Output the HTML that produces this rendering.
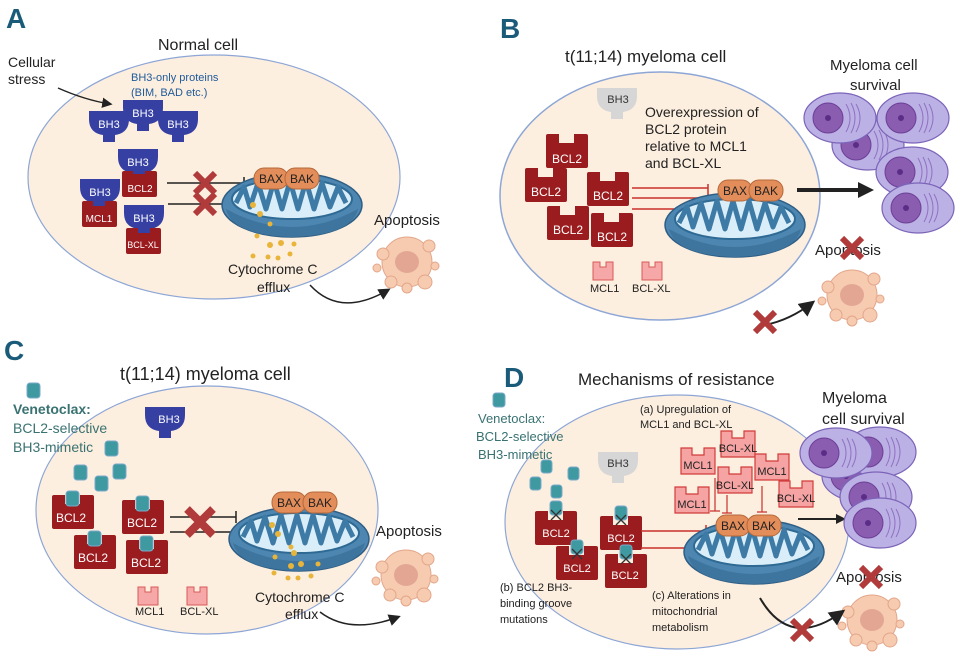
<!DOCTYPE html>
<html><head><meta charset="utf-8"><style>
html,body{margin:0;padding:0;background:#fff;}
svg{display:block;font-family:"Liberation Sans",sans-serif;}
</style></head><body>
<svg width="957" height="662" viewBox="0 0 957 662" xmlns="http://www.w3.org/2000/svg">
<defs>
 <g id="bh3"><path d="M0,0 H40 V8 Q40,22 26,24 V31 H14 V24 Q0,22 0,8 Z"/></g>
 <g id="blk"><path d="M0,2 Q0,0 2,0 H13 V9 H28 V0 H40 Q42,0 42,2 V32 Q42,34 40,34 H2 Q0,34 0,32 Z"/></g>
 <g id="pk"><path d="M0,0 H7 V5 H13 V0 H20 V18 H0 Z" fill="#f6a8a8" stroke="#d85a5a" stroke-width="1"/></g>
 <g id="pkb"><path d="M0,1 H11 V8 H23 V1 H34 V27 H0 Z" fill="#f5a3a3" stroke="#d23c3c" stroke-width="1.2"/></g>
 <g id="mito">
  <ellipse cx="0" cy="0" rx="70" ry="32" fill="#4d86b0" stroke="#2e5e85" stroke-width="1.5"/>
  <path d="M-66,4 Q0,40 66,4 Q60,30 0,32 Q-60,30 -66,4Z" fill="#3e759f"/>
  <ellipse cx="0" cy="-6" rx="60" ry="20" fill="#d9eef8" stroke="#2e6a94" stroke-width="2"/>
  <path d="M-56,-2 L-48,-18 L-42,2 L-34,-22 L-26,4 L-18,-24 L-10,4 L-2,-24 L6,4 L14,-24 L22,4 L30,-22 L38,2 L46,-18 L54,-2" fill="none" stroke="#3d7aa6" stroke-width="5" stroke-linejoin="round"/>
 </g>
 <g id="baxbak">
  <rect x="0" y="0" width="34" height="21" rx="10" fill="#e38d5a" stroke="#b5683a"/>
  <rect x="31" y="0" width="34" height="21" rx="10" fill="#e38d5a" stroke="#b5683a"/>
  <text x="17" y="15" font-size="12" text-anchor="middle" fill="#222">BAX</text>
  <text x="48" y="15" font-size="12" text-anchor="middle" fill="#222">BAK</text>
 </g>
 <g id="xmark"><path d="M-10,-10 L10,10 M10,-10 L-10,10" stroke="#b13a3a" stroke-width="6"/></g>
 <g id="apo">
  <circle cx="0" cy="0" r="25" fill="#f6cbb0" stroke="#e3a68a"/>
  <circle cx="-24" cy="-8" r="6" fill="#f6cbb0" stroke="#e3a68a"/>
  <circle cx="22" cy="-16" r="6" fill="#f6cbb0" stroke="#e3a68a"/>
  <circle cx="18" cy="20" r="7" fill="#f6cbb0" stroke="#e3a68a"/>
  <circle cx="-16" cy="20" r="6" fill="#f6cbb0" stroke="#e3a68a"/>
  <circle cx="28" cy="4" r="4" fill="#f6cbb0" stroke="#e3a68a"/>
  <circle cx="-30" cy="6" r="4" fill="#f6cbb0" stroke="#e3a68a"/>
  <circle cx="0" cy="26" r="5" fill="#f6cbb0" stroke="#e3a68a"/>
  <ellipse cx="0" cy="0" rx="12" ry="11" fill="#e3a693"/>
 </g>
 <g id="mye">
  <ellipse cx="0" cy="0" rx="36" ry="25" fill="#bcb1e4" stroke="#7b64b9" stroke-width="1.2"/>
  <circle cx="-12" cy="0" r="15" fill="#8a5db0" stroke="#6c3f98"/>
  <circle cx="-12" cy="0" r="3" fill="#5c2d86"/>
  <path d="M6,-14 Q14,0 6,14 M11,-15 Q19,0 11,15 M16,-14 Q24,0 16,14" stroke="#8e70c2" fill="none"/>
 </g>
 <marker id="ah" markerWidth="8" markerHeight="8" refX="6" refY="4" orient="auto"><path d="M0,0 L8,4 L0,8Z" fill="#222"/></marker>
</defs>

<!-- ===== A ===== -->
<text x="6" y="28" font-size="28" font-weight="bold" fill="#1b5b7a">A</text>
<text x="158" y="50" font-size="16" fill="#222">Normal cell</text>
<ellipse cx="214" cy="177" rx="186" ry="122" fill="#fdefdf" stroke="#8da6d6" stroke-width="1.2"/>
<text x="8" y="67" font-size="14" fill="#222">Cellular</text>
<text x="8" y="84" font-size="14" fill="#222">stress</text>
<path d="M58,88 Q85,100 110,104" fill="none" stroke="#222" stroke-width="1.3" marker-end="url(#ah)"/>
<text x="131" y="81" font-size="11" fill="#1f5a9a">BH3-only proteins</text>
<text x="131" y="96" font-size="11" fill="#1f5a9a">(BIM, BAD etc.)</text>
<g fill="#3640a3">
 <use href="#bh3" x="89" y="111"/><use href="#bh3" x="123" y="100"/><use href="#bh3" x="158" y="111"/>
 <use href="#bh3" x="118" y="149"/><use href="#bh3" x="80" y="179"/><use href="#bh3" x="124" y="205"/>
</g>
<g fill="#9b1c1f">
 <rect x="122" y="171" width="35" height="26" rx="2"/>
 <rect x="82" y="201" width="35" height="26" rx="2"/>
 <rect x="126" y="228" width="35" height="26" rx="2"/>
</g>
<g fill="#3640a3"><rect x="133" y="166" width="12" height="8"/><rect x="93" y="198" width="12" height="8"/><rect x="138" y="225" width="12" height="8"/></g>
<g fill="#fff" font-size="11" text-anchor="middle">
 <text x="109" y="128">BH3</text><text x="143" y="117">BH3</text><text x="178" y="128">BH3</text>
 <text x="138" y="166">BH3</text><text x="100" y="196">BH3</text><text x="144" y="222">BH3</text>
 <text x="140" y="192" font-size="10">BCL2</text><text x="99" y="222" font-size="10">MCL1</text><text x="143" y="248" font-size="9">BCL-XL</text>
</g>
<g stroke="#222" stroke-width="1.5"><path d="M167,183 H244 M244,177 V189 M168,204 H243 M243,198 V210"/></g>
<use href="#xmark" x="205" y="183"/><use href="#xmark" x="205" y="204"/>
<use href="#mito" x="292" y="205"/>
<use href="#baxbak" x="254" y="168"/>
<g fill="#e8b53a"><circle cx="253" cy="205" r="3"/><circle cx="260" cy="214" r="3"/><circle cx="270" cy="224" r="2.5"/><circle cx="257" cy="236" r="2.5"/><circle cx="270" cy="245" r="3"/><circle cx="281" cy="243" r="3"/><circle cx="294" cy="244" r="2.5"/><circle cx="253" cy="256" r="2.5"/><circle cx="268" cy="257" r="2.5"/><circle cx="278" cy="258" r="2.5"/><circle cx="290" cy="254" r="2.5"/></g>
<text x="228" y="274" font-size="14" fill="#222">Cytochrome C</text>
<text x="257" y="292" font-size="14" fill="#222">efflux</text>
<text x="374" y="225" font-size="15" fill="#222">Apoptosis</text>
<use href="#apo" x="407" y="262"/>
<path d="M310,285 Q340,318 388,290" fill="none" stroke="#222" stroke-width="1.5" marker-end="url(#ah)"/>

<!-- ===== B ===== -->
<text x="500" y="38" font-size="28" font-weight="bold" fill="#1b5b7a">B</text>
<text x="565" y="62" font-size="17" fill="#222">t(11;14) myeloma cell</text>
<ellipse cx="660" cy="196" rx="160" ry="124" fill="#fdefdf" stroke="#8da6d6" stroke-width="1.5"/>
<use href="#bh3" x="597" y="88" fill="#d6d6d6"/>
<text x="618" y="103" font-size="11" fill="#333" text-anchor="middle">BH3</text>
<g font-size="14" fill="#222"><text x="645" y="117">Overexpression of</text><text x="645" y="134">BCL2 protein</text><text x="645" y="151">relative to MCL1</text><text x="645" y="168">and BCL-XL</text></g>
<g fill="#9b1c1f"><use href="#blk" x="546" y="134"/><use href="#blk" x="525" y="168"/><use href="#blk" x="587" y="172"/><use href="#blk" x="547" y="206"/><use href="#blk" x="591" y="213"/></g>
<g fill="#fff" font-size="12" text-anchor="middle"><text x="567" y="163">BCL2</text><text x="546" y="196">BCL2</text><text x="608" y="200">BCL2</text><text x="568" y="234">BCL2</text><text x="612" y="241">BCL2</text></g>
<g stroke="#c9302c" stroke-width="1.5"><path d="M632,188 H708 M632,198 H708 M632,209 H708 M708,184 V214"/></g>
<use href="#mito" x="735" y="225"/>
<use href="#baxbak" x="718" y="180"/>
<use href="#pk" x="593" y="262"/><use href="#pk" x="642" y="262"/>
<text x="590" y="292" font-size="11" fill="#222">MCL1</text><text x="632" y="292" font-size="11" fill="#222">BCL-XL</text>
<path d="M797,190 H862" stroke="#222" stroke-width="4"/><path d="M858,182 L874,190 L858,198Z" fill="#222"/>
<text x="830" y="70" font-size="15" fill="#222">Myeloma cell</text>
<text x="850" y="90" font-size="15" fill="#222">survival</text>
<use href="#mye" x="868" y="145"/><use href="#mye" x="840" y="118"/><use href="#mye" x="913" y="118"/><use href="#mye" x="912" y="172"/><use href="#mye" x="918" y="208"/>
<text x="815" y="255" font-size="15" fill="#222">Apoptosis</text>
<use href="#xmark" x="852" y="248"/>
<use href="#apo" x="852" y="295"/>
<path d="M765,325 Q790,320 812,303" fill="none" stroke="#222" stroke-width="2" marker-end="url(#ah)"/>
<use href="#xmark" x="765" y="322"/>

<!-- ===== C ===== -->
<text x="4" y="360" font-size="28" font-weight="bold" fill="#1b5b7a">C</text>
<text x="120" y="380" font-size="18" fill="#222">t(11;14) myeloma cell</text>
<ellipse cx="207" cy="510" rx="171" ry="124" fill="#fdefdf" stroke="#8da6d6" stroke-width="1.2"/>
<g fill="#3e9aa0" stroke="#7aa9c9"><rect x="27" y="383" width="13" height="15" rx="3"/><rect x="105" y="441" width="13" height="15" rx="3"/><rect x="74" y="465" width="13" height="15" rx="3"/><rect x="113" y="464" width="13" height="15" rx="3"/><rect x="95" y="476" width="13" height="15" rx="3"/></g>
<text x="13" y="414" font-size="14" font-weight="bold" fill="#3a7272">Venetoclax:</text>
<text x="13" y="433" font-size="14" fill="#3a7272">BCL2-selective</text>
<text x="13" y="452" font-size="14" fill="#3a7272">BH3-mimetic</text>
<use href="#bh3" x="145" y="407" fill="#3640a3"/>
<text x="169" y="423" font-size="11" fill="#fff" text-anchor="middle">BH3</text>
<g fill="#9b1c1f"><use href="#blk" x="52" y="495"/><use href="#blk" x="74" y="535"/><use href="#blk" x="122" y="500"/><use href="#blk" x="126" y="540"/></g>
<g fill="#3e9aa0" stroke="#7aa9c9"><rect x="66" y="491" width="13" height="15" rx="3"/><rect x="88" y="531" width="13" height="15" rx="3"/><rect x="136" y="496" width="13" height="15" rx="3"/><rect x="140" y="536" width="13" height="15" rx="3"/></g>
<g fill="#fff" font-size="12" text-anchor="middle"><text x="71" y="522">BCL2</text><text x="93" y="562">BCL2</text><text x="142" y="527">BCL2</text><text x="146" y="567">BCL2</text></g>
<g stroke="#222" stroke-width="1.5"><path d="M170,517 H236 M170,532 H236 M236,511 V523 M236,526 V538"/></g>
<path d="M187,509 L213,535 M213,509 L187,535" stroke="#b13a3a" stroke-width="8"/>
<use href="#mito" x="299" y="539"/>
<use href="#baxbak" x="272" y="492"/>
<g fill="#e8b53a"><circle cx="272" cy="525" r="3"/><circle cx="278" cy="534" r="3"/><circle cx="291" cy="547" r="2.5"/><circle cx="275" cy="557" r="2.5"/><circle cx="294" cy="553" r="3"/><circle cx="291" cy="566" r="3"/><circle cx="301" cy="564" r="3"/><circle cx="318" cy="564" r="2.5"/><circle cx="274" cy="573" r="2.5"/><circle cx="288" cy="578" r="2.5"/><circle cx="298" cy="578" r="2.5"/><circle cx="311" cy="576" r="2.5"/></g>
<use href="#pk" x="138" y="587"/><use href="#pk" x="187" y="587"/>
<text x="135" y="615" font-size="11" fill="#222">MCL1</text><text x="180" y="615" font-size="11" fill="#222">BCL-XL</text>
<text x="255" y="602" font-size="14" fill="#222">Cytochrome C</text>
<text x="285" y="619" font-size="14" fill="#222">efflux</text>
<text x="376" y="536" font-size="15" fill="#222">Apoptosis</text>
<use href="#apo" x="406" y="575"/>
<path d="M320,612 Q350,635 398,617" fill="none" stroke="#222" stroke-width="1.5" marker-end="url(#ah)"/>

<!-- ===== D ===== -->
<text x="504" y="387" font-size="28" font-weight="bold" fill="#1b5b7a">D</text>
<text x="578" y="385" font-size="17" fill="#222">Mechanisms of resistance</text>
<ellipse cx="677" cy="522" rx="172" ry="127" fill="#fdefdf" stroke="#8da6d6" stroke-width="1.2"/>
<g fill="#3e9aa0" stroke="#7aa9c9"><rect x="493" y="393" width="12" height="14" rx="3"/><rect x="541" y="460" width="11" height="13" rx="3"/><rect x="568" y="467" width="11" height="13" rx="3"/><rect x="530" y="477" width="11" height="13" rx="3"/><rect x="551" y="485" width="11" height="13" rx="3"/></g>
<text x="478" y="423" font-size="13" fill="#3a7272">Venetoclax:</text>
<text x="476" y="441" font-size="13" fill="#3a7272">BCL2-selective</text>
<text x="478" y="459" font-size="13" fill="#3a7272">BH3-mimetic</text>
<use href="#bh3" x="598" y="452" fill="#d6d6d6"/>
<text x="618" y="467" font-size="11" fill="#333" text-anchor="middle">BH3</text>
<g fill="#9b1c1f"><use href="#blk" x="535" y="511"/><use href="#blk" x="556" y="546"/><use href="#blk" x="600" y="516"/><use href="#blk" x="605" y="554"/></g>
<g fill="#3e9aa0" stroke="#7aa9c9"><rect x="550" y="501" width="12" height="14" rx="3"/><rect x="571" y="540" width="12" height="14" rx="3"/><rect x="615" y="506" width="12" height="14" rx="3"/><rect x="620" y="545" width="12" height="14" rx="3"/></g>
<g stroke="#333" stroke-width="1.3"><path d="M551,510 l10,10 M561,510 l-10,10 M572,549 l10,10 M582,549 l-10,10 M616,515 l10,10 M626,515 l-10,10 M621,554 l10,10 M631,554 l-10,10"/></g>
<g fill="#fff" font-size="11" text-anchor="middle"><text x="556" y="537">BCL2</text><text x="577" y="572">BCL2</text><text x="621" y="542">BCL2</text><text x="625" y="579">BCL2</text></g>
<g stroke="#c9302c" stroke-width="1.5"><path d="M641,531 H706 M641,548 H706 M706,525 V553"/></g>
<use href="#mito" x="754" y="552"/>
<use href="#baxbak" x="716" y="515"/>
<text x="640" y="413" font-size="11" fill="#222">(a) Upregulation of</text>
<text x="640" y="428" font-size="11" fill="#222">MCL1 and BCL-XL</text>
<g stroke="#c9302c" stroke-width="1.2"><path d="M715,478 V511 M710,511 H720 M727,495 V513 M722,513 H732 M762,486 V512 M757,512 H767"/></g>
<use href="#pkb" x="681" y="447"/><use href="#pkb" x="721" y="430"/><use href="#pkb" x="755" y="453"/><use href="#pkb" x="718" y="466"/><use href="#pkb" x="675" y="486"/><use href="#pkb" x="779" y="480"/>
<g font-size="11" fill="#222" text-anchor="middle"><text x="698" y="469">MCL1</text><text x="738" y="452">BCL-XL</text><text x="772" y="475">MCL1</text><text x="735" y="489">BCL-XL</text><text x="692" y="508">MCL1</text><text x="796" y="502">BCL-XL</text></g>
<text x="500" y="591" font-size="11" fill="#222">(b) BCL2 BH3-</text>
<text x="500" y="607" font-size="11" fill="#222">binding groove</text>
<text x="500" y="623" font-size="11" fill="#222">mutations</text>
<text x="652" y="599" font-size="11" fill="#222">(c) Alterations in</text>
<text x="652" y="615" font-size="11" fill="#222">mitochondrial</text>
<text x="652" y="631" font-size="11" fill="#222">metabolism</text>
<path d="M798,519 H838" stroke="#222" stroke-width="2"/><path d="M836,514 L846,519 L836,524Z" fill="#222"/>
<text x="822" y="403" font-size="16" fill="#222">Myeloma</text>
<text x="822" y="424" font-size="16" fill="#222">cell survival</text>
<use href="#mye" x="858" y="476"/><use href="#mye" x="880" y="452"/><use href="#mye" x="836" y="453"/><use href="#mye" x="876" y="497"/><use href="#mye" x="880" y="523"/>
<text x="836" y="582" font-size="15" fill="#222">Apoptosis</text>
<use href="#xmark" x="871" y="577"/>
<use href="#apo" x="872" y="620"/>
<path d="M760,598 Q790,650 842,612" fill="none" stroke="#222" stroke-width="2" marker-end="url(#ah)"/>
<use href="#xmark" x="802" y="630"/>
</svg>
</body></html>
